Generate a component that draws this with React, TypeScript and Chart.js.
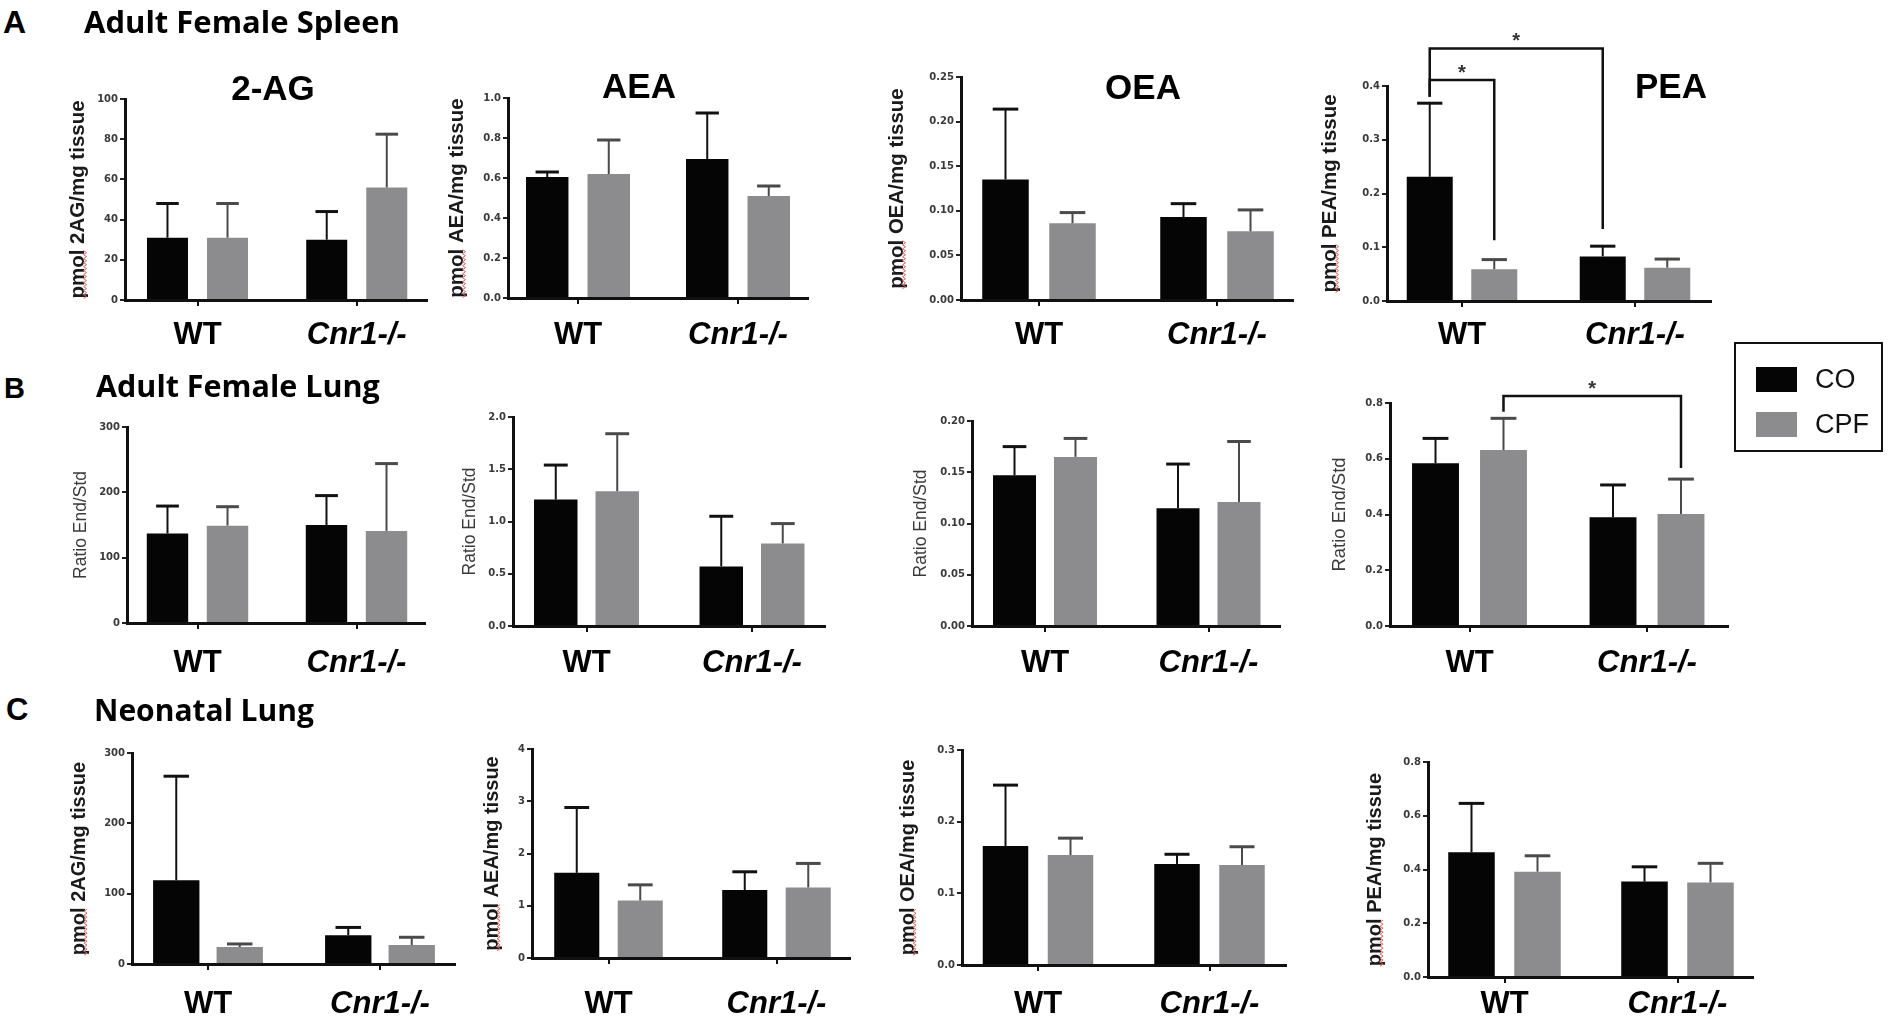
import React, { useEffect, useRef } from 'react';
import { Chart, registerables } from 'chart.js';

Chart.register(...registerables);

// ---------------- data ----------------
const GROUPS = ['WT', 'Cnr1-/-'];
const SERIES = ['CO', 'CPF'];
const SERIES_COLORS = ['#050505', '#8c8c8e'];
const ERROR_COLORS = ['#111111', '#4a4a4a'];

// A: Adult Female Spleen
const A_2AG_TICKS = ['0', '20', '40', '60', '80', '100'];
const A_2AG_CO = [31, 30];
const A_2AG_CO_ERR = [17, 14];
const A_2AG_CPF = [31, 56];
const A_2AG_CPF_ERR = [17, 26.5];

const A_AEA_TICKS = ['0.0', '0.2', '0.4', '0.6', '0.8', '1.0'];
const A_AEA_CO = [0.605, 0.695];
const A_AEA_CO_ERR = [0.025, 0.23];
const A_AEA_CPF = [0.62, 0.51];
const A_AEA_CPF_ERR = [0.17, 0.05];

const A_OEA_TICKS = ['0.00', '0.05', '0.10', '0.15', '0.20', '0.25'];
const A_OEA_CO = [0.135, 0.093];
const A_OEA_CO_ERR = [0.079, 0.015];
const A_OEA_CPF = [0.086, 0.077];
const A_OEA_CPF_ERR = [0.012, 0.024];

const A_PEA_TICKS = ['0.0', '0.1', '0.2', '0.3', '0.4'];
const A_PEA_CO = [0.231, 0.083];
const A_PEA_CO_ERR = [0.137, 0.019];
const A_PEA_CPF = [0.059, 0.062];
const A_PEA_CPF_ERR = [0.018, 0.016];
const A_PEA_SIG = [
  { from: [0, 0], to: [1, 0], level: 0.47, fromEnd: 0.38, toEnd: 0.134 },
  { from: [0, 0], to: [0, 1], level: 0.411, fromEnd: 0.38, toEnd: 0.113 },
];

// B: Adult Female Lung
const B_2AG_TICKS = ['0', '100', '200', '300'];
const B_2AG_CO = [137, 150];
const B_2AG_CO_ERR = [42, 45];
const B_2AG_CPF = [149, 141];
const B_2AG_CPF_ERR = [29, 103];

const B_AEA_TICKS = ['0.0', '0.5', '1.0', '1.5', '2.0'];
const B_AEA_CO = [1.21, 0.57];
const B_AEA_CO_ERR = [0.33, 0.48];
const B_AEA_CPF = [1.29, 0.79];
const B_AEA_CPF_ERR = [0.55, 0.19];

const B_OEA_TICKS = ['0.00', '0.05', '0.10', '0.15', '0.20'];
const B_OEA_CO = [0.147, 0.115];
const B_OEA_CO_ERR = [0.028, 0.043];
const B_OEA_CPF = [0.165, 0.121];
const B_OEA_CPF_ERR = [0.018, 0.059];

const B_PEA_TICKS = ['0.0', '0.2', '0.4', '0.6', '0.8'];
const B_PEA_CO = [0.584, 0.39];
const B_PEA_CO_ERR = [0.089, 0.116];
const B_PEA_CPF = [0.631, 0.402];
const B_PEA_CPF_ERR = [0.114, 0.125];
const B_PEA_SIG = [{ from: [0, 1], to: [1, 1], level: 0.825, fromEnd: 0.769, toEnd: 0.567 }];

// C: Neonatal Lung
const C_2AG_TICKS = ['0', '100', '200', '300'];
const C_2AG_CO = [119, 41];
const C_2AG_CO_ERR = [148, 11];
const C_2AG_CPF = [24, 27];
const C_2AG_CPF_ERR = [4.5, 11];

const C_AEA_TICKS = ['0', '1', '2', '3', '4'];
const C_AEA_CO = [1.63, 1.3];
const C_AEA_CO_ERR = [1.25, 0.35];
const C_AEA_CPF = [1.1, 1.35];
const C_AEA_CPF_ERR = [0.3, 0.46];

const C_OEA_TICKS = ['0.0', '0.1', '0.2', '0.3'];
const C_OEA_CO = [0.166, 0.141];
const C_OEA_CO_ERR = [0.085, 0.0135];
const C_OEA_CPF = [0.1535, 0.1395];
const C_OEA_CPF_ERR = [0.0235, 0.0255];

const C_PEA_TICKS = ['0.0', '0.2', '0.4', '0.6', '0.8'];
const C_PEA_CO = [0.464, 0.355];
const C_PEA_CO_ERR = [0.182, 0.055];
const C_PEA_CPF = [0.392, 0.352];
const C_PEA_CPF_ERR = [0.059, 0.071];

// ---------------- layout ----------------
const FONT = "'Liberation Sans', Arial, Helvetica, sans-serif";
const HEAD_FONT = "'Open Sans', Lato, sans-serif";

const ROWS: any = {
  A: { rowTop: 20, rowBottom: 362, xLabelY: 335, ytSize: 20.5, ytWeight: 'bold', ytColor: '#1a1a1a' },
  B: { rowTop: 368, rowBottom: 690, xLabelY: 663, ytSize: 17.5, ytWeight: 'normal', ytColor: '#3a3a3a' },
  C: { rowTop: 735, rowBottom: 1030, xLabelY: 1004, ytSize: 20, ytWeight: 'bold', ytColor: '#1a1a1a' },
};

const PANELS: any[] = [
  { row: 'A', title: '2-AG', titleX: 273, titleY: 90, yTitle: 'pmol 2AG/mg tissue', ticks: A_2AG_TICKS, co: A_2AG_CO, coErr: A_2AG_CO_ERR, cpf: A_2AG_CPF, cpfErr: A_2AG_CPF_ERR,
    box: { L: 125, R: 427, T: 99, B: 300, c0: 197.5, c1: 356.75, cat: 0.754, bar: 0.683, yt: 78 } },
  { row: 'A', title: 'AEA', titleX: 639, titleY: 88, yTitle: 'pmol AEA/mg tissue', ticks: A_AEA_TICKS, co: A_AEA_CO, coErr: A_AEA_CO_ERR, cpf: A_AEA_CPF, cpfErr: A_AEA_CPF_ERR,
    box: { L: 508, R: 808, T: 98, B: 298, c0: 578, c1: 738, cat: 0.769, bar: 0.69, yt: 457 } },
  { row: 'A', title: 'OEA', titleX: 1143, titleY: 89, yTitle: 'pmol OEA/mg tissue', ticks: A_OEA_TICKS, co: A_OEA_CO, coErr: A_OEA_CO_ERR, cpf: A_OEA_CPF, cpfErr: A_OEA_CPF_ERR,
    box: { L: 961, R: 1293, T: 77, B: 300, c0: 1039, c1: 1217, cat: 0.753, bar: 0.694, yt: 897 } },
  { row: 'A', title: 'PEA', titleX: 1671, titleY: 88, yTitle: 'pmol PEA/mg tissue', ticks: A_PEA_TICKS, co: A_PEA_CO, coErr: A_PEA_CO_ERR, cpf: A_PEA_CPF, cpfErr: A_PEA_CPF_ERR, sig: A_PEA_SIG,
    box: { L: 1387, R: 1711, T: 86, B: 301, c0: 1462, c1: 1635, cat: 0.746, bar: 0.713, yt: 1330 } },

  { row: 'B', yTitle: 'Ratio End/Std', ticks: B_2AG_TICKS, co: B_2AG_CO, coErr: B_2AG_CO_ERR, cpf: B_2AG_CPF, cpfErr: B_2AG_CPF_ERR,
    box: { L: 127, R: 425, T: 427, B: 623, c0: 197.5, c1: 356.5, cat: 0.755, bar: 0.69, yt: 81 } },
  { row: 'B', yTitle: 'Ratio End/Std', ticks: B_AEA_TICKS, co: B_AEA_CO, coErr: B_AEA_CO_ERR, cpf: B_AEA_CPF, cpfErr: B_AEA_CPF_ERR,
    box: { L: 513, R: 825, T: 417, B: 626, c0: 586.5, c1: 752, cat: 0.743, bar: 0.707, yt: 470 } },
  { row: 'B', yTitle: 'Ratio End/Std', ticks: B_OEA_TICKS, co: B_OEA_CO, coErr: B_OEA_CO_ERR, cpf: B_OEA_CPF, cpfErr: B_OEA_CPF_ERR,
    box: { L: 972, R: 1280, T: 421, B: 626, c0: 1045, c1: 1208.5, cat: 0.746, bar: 0.705, yt: 921 } },
  { row: 'B', yTitle: 'Ratio End/Std', ytSize: 18.5, ticks: B_PEA_TICKS, co: B_PEA_CO, coErr: B_PEA_CO_ERR, cpf: B_PEA_CPF, cpfErr: B_PEA_CPF_ERR, sig: B_PEA_SIG,
    box: { L: 1390, R: 1728, T: 403, B: 626, c0: 1469.5, c1: 1647, cat: 0.766, bar: 0.69, yt: 1340 } },

  { row: 'C', yTitle: 'pmol 2AG/mg tissue', ticks: C_2AG_TICKS, co: C_2AG_CO, coErr: C_2AG_CO_ERR, cpf: C_2AG_CPF, cpfErr: C_2AG_CPF_ERR,
    box: { L: 132, R: 455, T: 753, B: 964, c0: 208, c1: 380, cat: 0.738, bar: 0.73, yt: 79 } },
  { row: 'C', yTitle: 'pmol AEA/mg tissue', ticks: C_AEA_TICKS, co: C_AEA_CO, coErr: C_AEA_CO_ERR, cpf: C_AEA_CPF, cpfErr: C_AEA_CPF_ERR,
    box: { L: 532, R: 850, T: 749, B: 958, c0: 608.5, c1: 776.5, cat: 0.756, bar: 0.71, yt: 492 } },
  { row: 'C', yTitle: 'pmol OEA/mg tissue', ticks: C_OEA_TICKS, co: C_OEA_CO, coErr: C_OEA_CO_ERR, cpf: C_OEA_CPF, cpfErr: C_OEA_CPF_ERR,
    box: { L: 962, R: 1286, T: 750, B: 965, c0: 1038, c1: 1209.5, cat: 0.758, bar: 0.7, yt: 908 } },
  { row: 'C', yTitle: 'pmol PEA/mg tissue', ticks: C_PEA_TICKS, co: C_PEA_CO, coErr: C_PEA_CO_ERR, cpf: C_PEA_CPF, cpfErr: C_PEA_CPF_ERR,
    box: { L: 1428, R: 1753, T: 762, B: 977, c0: 1504.5, c1: 1677.5, cat: 0.763, bar: 0.705, yt: 1375 } },
];

function geometry(p: any) {
  const row = ROWS[p.row];
  const b = p.box;
  const ytSize = p.ytSize || row.ytSize;
  const ytLH = ytSize * 1.2;
  const left = Math.round(b.yt - ytLH / 2);
  const width = Math.round(b.R + 10 - left);
  const height = row.rowBottom - row.rowTop;
  return {
    left,
    top: row.rowTop,
    width,
    height,
    ytSize,
    ytLH,
    yW: b.L - left,
    padTop: b.T - row.rowTop,
    padRight: width - (b.R - left),
    xH: row.rowBottom - b.B,
  };
}

function buildConfig(p: any, g: any) {
  const row = ROWS[p.row];
  const b = p.box;
  const unit = b.c1 - b.c0;
  const xMin = -(b.c0 - b.L) / unit;
  const xMax = 1 + (b.R - b.c1) / unit;
  const tickVals = p.ticks.map(Number);
  const xLabelSize = 31;
  const xTickLen = 6;
  const xPad = row.xLabelY - b.B - xTickLen - xLabelSize / 2;
  const values = [p.co, p.cpf];
  const errors = [p.coErr, p.cpfErr];
  const ytFont = `${row.ytWeight} ${g.ytSize}px ${FONT}`;

  const extras = {
    id: 'extras',
    afterDatasetsDraw(chart: any) {
      const ctx = chart.ctx;
      const yS = chart.scales.y;
      ctx.save();
      for (let s = 0; s < 2; s++) {
        const meta = chart.getDatasetMeta(s);
        meta.data.forEach((el: any, i: number) => {
          const top = yS.getPixelForValue(values[s][i] + errors[s][i]);
          const cap = el.width * 0.55;
          ctx.strokeStyle = ERROR_COLORS[s];
          ctx.lineWidth = 2;
          ctx.beginPath();
          ctx.moveTo(el.x, el.y);
          ctx.lineTo(el.x, top);
          ctx.stroke();
          ctx.lineWidth = 3;
          ctx.beginPath();
          ctx.moveTo(el.x - cap / 2, top);
          ctx.lineTo(el.x + cap / 2, top);
          ctx.stroke();
        });
      }
      ctx.restore();
    },
    afterDraw(chart: any) {
      const ctx = chart.ctx;
      const yS = chart.scales.y;
      ctx.save();
      // panel title
      if (p.title) {
        ctx.fillStyle = '#000';
        ctx.font = `bold 35px ${FONT}`;
        ctx.textAlign = 'center';
        ctx.textBaseline = 'middle';
        ctx.fillText(p.title, p.titleX - g.left, p.titleY - g.top);
      }
      // significance brackets
      (p.sig || []).forEach((br: any) => {
        const x1 = chart.getDatasetMeta(br.from[1]).data[br.from[0]].x;
        const x2 = chart.getDatasetMeta(br.to[1]).data[br.to[0]].x;
        const yl = yS.getPixelForValue(br.level);
        const y1 = yS.getPixelForValue(br.fromEnd);
        const y2 = yS.getPixelForValue(br.toEnd);
        ctx.strokeStyle = '#111';
        ctx.lineWidth = 2.5;
        ctx.beginPath();
        ctx.moveTo(x1, y1);
        ctx.lineTo(x1, yl);
        ctx.lineTo(x2, yl);
        ctx.lineTo(x2, y2);
        ctx.stroke();
        ctx.fillStyle = '#333';
        ctx.font = `bold 20px ${FONT}`;
        ctx.textAlign = 'center';
        ctx.textBaseline = 'alphabetic';
        ctx.fillText('*', (x1 + x2) / 2, yl - 1);
      });
      // spell-check squiggle under "pmol"
      if (p.yTitle.startsWith('pmol')) {
        ctx.font = ytFont;
        const w = ctx.measureText(p.yTitle).width;
        const wp = ctx.measureText('pmol').width;
        const cx = yS.left + g.ytLH / 2 + g.ytSize * 0.33;
        const cy = (yS.top + yS.bottom) / 2;
        const y0 = cy + w / 2;
        ctx.strokeStyle = '#e0605a';
        ctx.lineWidth = 1;
        ctx.beginPath();
        let k = 0;
        for (let y = y0; y >= y0 - wp; y -= 2) {
          const x = cx + (k % 2 === 0 ? -1.5 : 1.5);
          if (k === 0) ctx.moveTo(x, y);
          else ctx.lineTo(x, y);
          k++;
        }
        ctx.stroke();
      }
      ctx.restore();
    },
  };

  return {
    type: 'bar',
    data: {
      datasets: SERIES.map((name, s) => ({
        label: name,
        data: values[s].map((v: number, i: number) => ({ x: i, y: v })),
        backgroundColor: SERIES_COLORS[s],
        borderWidth: 0,
        categoryPercentage: b.cat,
        barPercentage: b.bar,
      })),
    },
    options: {
      animation: false,
      responsive: false,
      maintainAspectRatio: false,
      events: [],
      layout: { padding: { left: 0, top: g.padTop, right: g.padRight, bottom: 0 } },
      plugins: { legend: { display: false }, tooltip: { enabled: false }, title: { display: false } },
      scales: {
        x: {
          type: 'linear',
          min: xMin,
          max: xMax,
          offset: false,
          afterBuildTicks: (s: any) => {
            s.ticks = GROUPS.map((_, i) => ({ value: i }));
          },
          afterFit: (s: any) => {
            s.height = g.xH;
          },
          ticks: {
            autoSkip: false,
            maxRotation: 0,
            minRotation: 0,
            padding: xPad,
            color: '#000',
            callback: (_v: any, i: number) => GROUPS[i],
            font: (ctx: any) => ({
              family: FONT,
              size: xLabelSize,
              weight: 'bold',
              style: ctx.index === 1 ? 'italic' : 'normal',
              lineHeight: 1,
            }),
          },
          grid: { offset: false, drawOnChartArea: false, drawTicks: true, tickLength: xTickLen, color: '#111', lineWidth: 2 },
          border: { display: true, color: '#111', width: 3 },
        },
        y: {
          type: 'linear',
          min: tickVals[0],
          max: tickVals[tickVals.length - 1],
          afterBuildTicks: (s: any) => {
            s.ticks = tickVals.map((v: number) => ({ value: v }));
          },
          afterFit: (s: any) => {
            s.width = g.yW;
          },
          ticks: {
            autoSkip: false,
            padding: 2,
            color: '#3a3a3a',
            callback: (_v: any, i: number) => p.ticks[i],
            font: { family: "'DejaVu Sans', sans-serif", size: 10, weight: 'bold' },
          },
          grid: { drawOnChartArea: false, drawTicks: true, tickLength: 5, color: '#222', lineWidth: 2 },
          border: { display: true, color: '#111', width: 3 },
          title: {
            display: true,
            text: p.yTitle,
            color: row.ytColor,
            padding: { top: 0, bottom: 0 },
            font: { family: FONT, size: g.ytSize, weight: row.ytWeight, lineHeight: 1.2 },
          },
        },
      },
    },
    plugins: [extras],
  };
}

function Panel({ p }: { p: any }) {
  const ref = useRef<HTMLCanvasElement>(null);
  const g = geometry(p);
  useEffect(() => {
    const chart = new Chart(ref.current as HTMLCanvasElement, buildConfig(p, g) as any);
    return () => chart.destroy();
  }, []);
  return (
    <canvas
      ref={ref}
      width={g.width}
      height={g.height}
      style={{ position: 'absolute', left: g.left, top: g.top, width: g.width, height: g.height }}
    />
  );
}

function Text({ x, y, size, family, weight, style, children, color }: any) {
  return (
    <div
      style={{
        position: 'absolute',
        left: x,
        top: y,
        fontFamily: family,
        fontSize: size,
        fontWeight: weight || 'bold',
        fontStyle: style || 'normal',
        lineHeight: 1,
        whiteSpace: 'nowrap',
        color: color || '#000',
      }}
    >
      {children}
    </div>
  );
}

export default function App() {
  return (
    <div style={{ position: 'absolute', left: 0, top: 0, width: 1889, height: 1030, background: '#fff', overflow: 'hidden' }}>
      {PANELS.map((p, i) => (
        <Panel key={i} p={p} />
      ))}
      <Text x={3} y={6} size={32} family={FONT}>A</Text>
      <Text x={84} y={6} size={31} family={HEAD_FONT}>Adult Female Spleen</Text>
      <Text x={4} y={374} size={29} family={FONT}>B</Text>
      <Text x={96} y={370} size={30.5} family={HEAD_FONT}>Adult Female Lung</Text>
      <Text x={6} y={694} size={31} family={FONT}>C</Text>
      <Text x={94} y={695} size={30} family={HEAD_FONT}>Neonatal Lung</Text>
      <div
        style={{
          position: 'absolute',
          left: 1734,
          top: 342,
          width: 149,
          height: 110,
          border: '2px solid #111',
          boxSizing: 'border-box',
        }}
      >
        {SERIES.map((name, s) => (
          <React.Fragment key={name}>
            <div
              style={{
                position: 'absolute',
                left: 20,
                top: 23 + s * 45,
                width: 41,
                height: 25,
                background: SERIES_COLORS[s],
              }}
            />
            <div
              style={{
                position: 'absolute',
                left: 79,
                top: 22 + s * 45,
                fontFamily: FONT,
                fontSize: 27,
                lineHeight: 1,
                color: '#111',
              }}
            >
              {name}
            </div>
          </React.Fragment>
        ))}
      </div>
    </div>
  );
}
